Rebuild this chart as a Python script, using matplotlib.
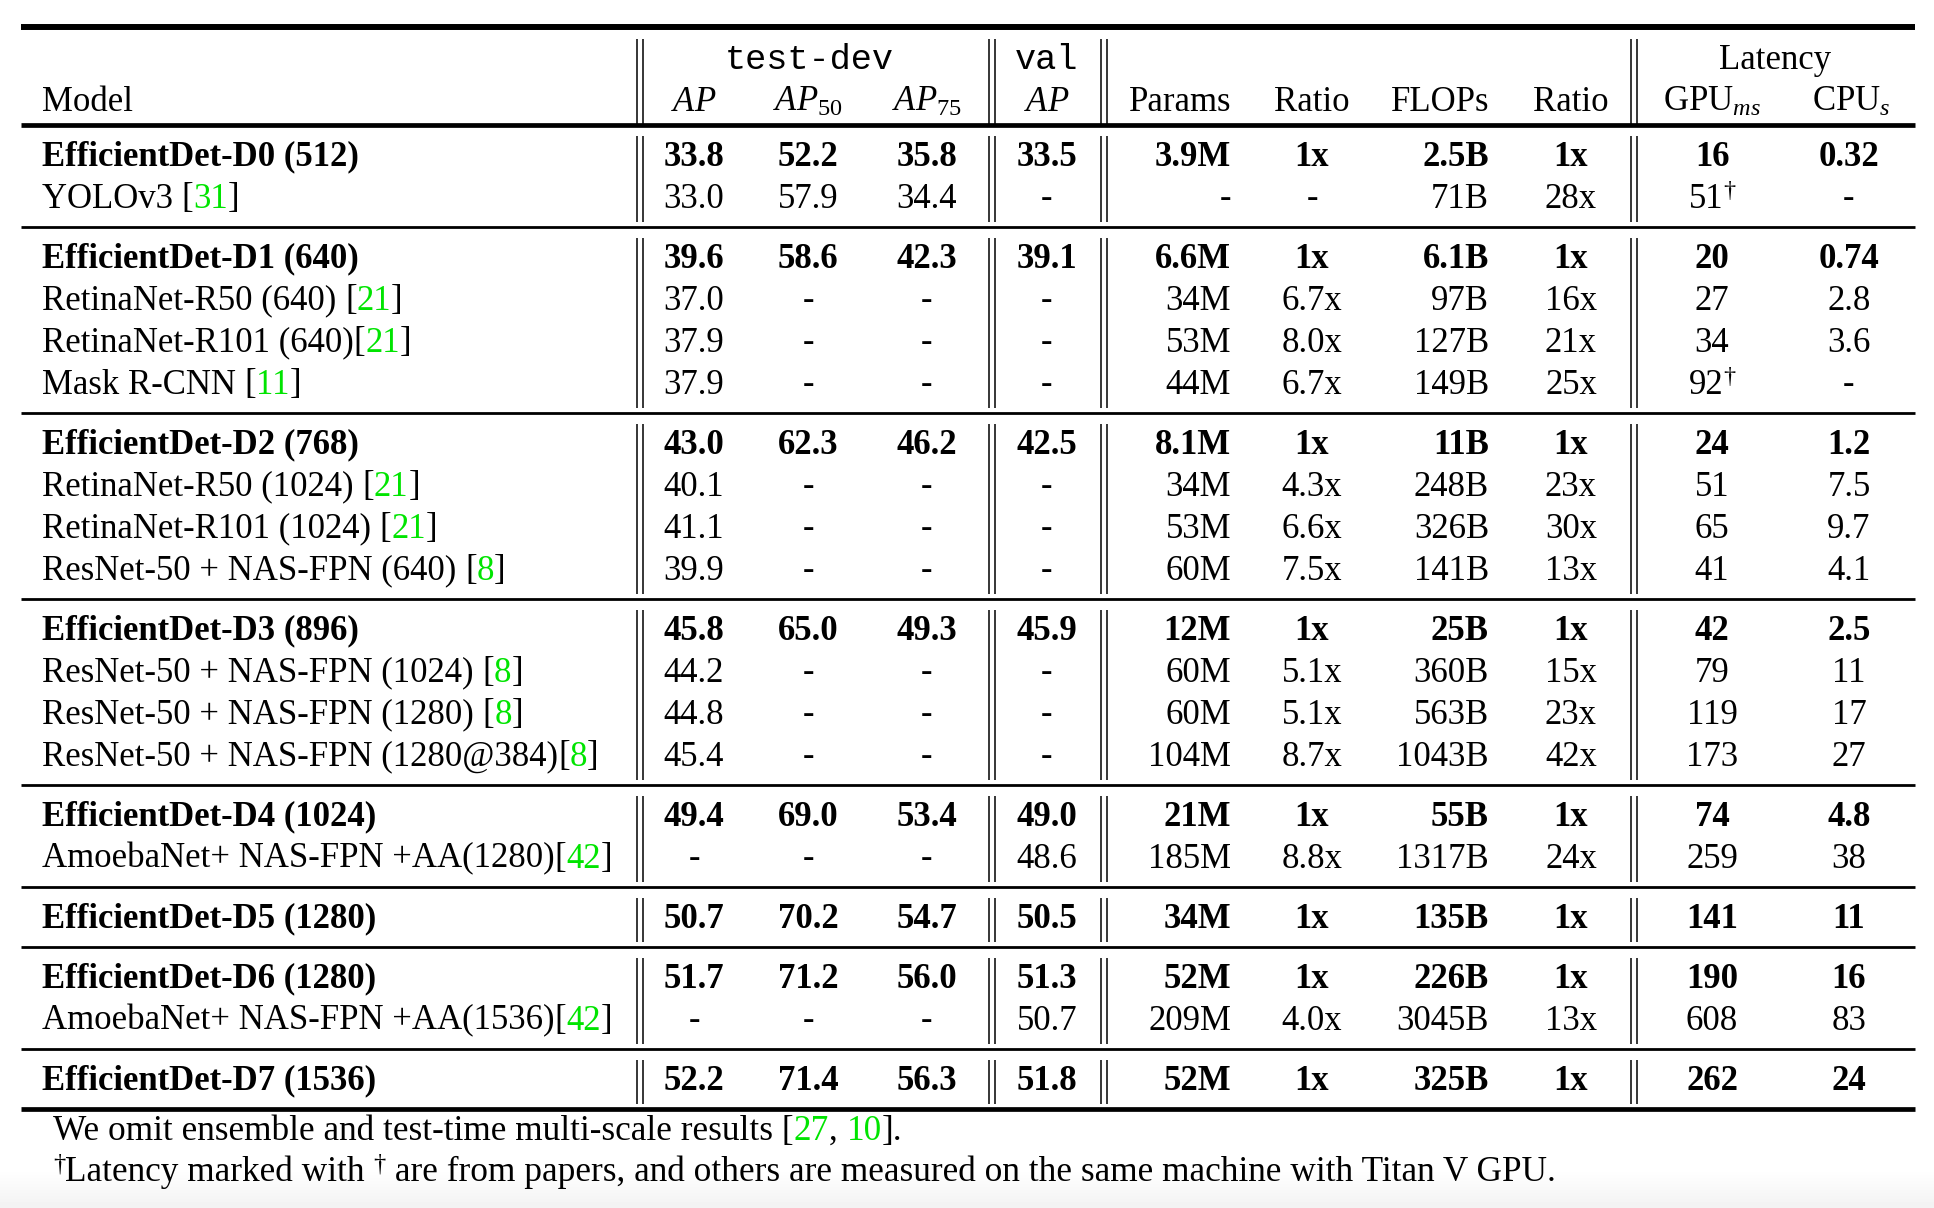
import re
import numpy as np
import matplotlib
matplotlib.use('Agg')
import matplotlib.pyplot as plt

plt.rcParams['font.family'] = ['Liberation Serif', 'DejaVu Serif']
plt.rcParams['mathtext.fontset'] = 'custom'
plt.rcParams['mathtext.rm'] = 'Liberation Serif'
plt.rcParams['mathtext.it'] = 'Liberation Serif:italic'
plt.rcParams['mathtext.bf'] = 'Liberation Serif:bold'

# table data
model_names = ['EfficientDet-D0 (512)', 'YOLOv3 [31]',
               'EfficientDet-D1 (640)', 'RetinaNet-R50 (640) [21]', 'RetinaNet-R101 (640)[21]', 'Mask R-CNN [11]',
               'EfficientDet-D2 (768)', 'RetinaNet-R50 (1024) [21]', 'RetinaNet-R101 (1024) [21]',
               'ResNet-50 + NAS-FPN (640) [8]',
               'EfficientDet-D3 (896)', 'ResNet-50 + NAS-FPN (1024) [8]', 'ResNet-50 + NAS-FPN (1280) [8]',
               'ResNet-50 + NAS-FPN (1280@384)[8]',
               'EfficientDet-D4 (1024)', 'AmoebaNet+ NAS-FPN +AA(1280)[42]',
               'EfficientDet-D5 (1280)',
               'EfficientDet-D6 (1280)', 'AmoebaNet+ NAS-FPN +AA(1536)[42]',
               'EfficientDet-D7 (1536)']
group_sizes = [2, 4, 4, 4, 2, 1, 2, 1]

ap_testdev = ['33.8', '33.0', '39.6', '37.0', '37.9', '37.9', '43.0', '40.1', '41.1', '39.9',
              '45.8', '44.2', '44.8', '45.4', '49.4', '-', '50.7', '51.7', '-', '52.2']
ap50 = ['52.2', '57.9', '58.6', '-', '-', '-', '62.3', '-', '-', '-',
        '65.0', '-', '-', '-', '69.0', '-', '70.2', '71.2', '-', '71.4']
ap75 = ['35.8', '34.4', '42.3', '-', '-', '-', '46.2', '-', '-', '-',
        '49.3', '-', '-', '-', '53.4', '-', '54.7', '56.0', '-', '56.3']
ap_val = ['33.5', '-', '39.1', '-', '-', '-', '42.5', '-', '-', '-',
          '45.9', '-', '-', '-', '49.0', '48.6', '50.5', '51.3', '50.7', '51.8']
params = ['3.9M', '-', '6.6M', '34M', '53M', '44M', '8.1M', '34M', '53M', '60M',
          '12M', '60M', '60M', '104M', '21M', '185M', '34M', '52M', '209M', '52M']
params_ratio = ['1x', '-', '1x', '6.7x', '8.0x', '6.7x', '1x', '4.3x', '6.6x', '7.5x',
                '1x', '5.1x', '5.1x', '8.7x', '1x', '8.8x', '1x', '1x', '4.0x', '1x']
flops = ['2.5B', '71B', '6.1B', '97B', '127B', '149B', '11B', '248B', '326B', '141B',
         '25B', '360B', '563B', '1043B', '55B', '1317B', '135B', '226B', '3045B', '325B']
flops_ratio = ['1x', '28x', '1x', '16x', '21x', '25x', '1x', '23x', '30x', '13x',
               '1x', '15x', '23x', '42x', '1x', '24x', '1x', '1x', '13x', '1x']
gpu_ms = ['16', '51\u2020', '20', '27', '34', '92\u2020', '24', '51', '65', '41',
          '42', '79', '119', '173', '74', '259', '141', '190', '608', '262']
cpu_s = ['0.32', '-', '0.74', '2.8', '3.6', '-', '1.2', '7.5', '9.7', '4.1',
         '2.5', '11', '17', '27', '4.8', '38', '11', '16', '83', '24']

footnote_2 = 'Latency marked with \u2020 are from papers, and others are measured on the same machine with Titan V GPU.'

GREEN = '#00e400'
FS = 25
FS_NOTE = 25.4
W, H = 1934, 1208

fig = plt.figure(figsize=(W / 100, H / 100), dpi=100)
ax = fig.add_axes([0, 0, 1, 1])
ax.set_xlim(0, W)
ax.set_ylim(H, 0)
ax.axis('off')

# faint grey fade at the very bottom
grad = np.linspace(1.0, 0.95, 40)[:, None] * np.ones((40, 2))
ax.imshow(grad, cmap='gray', vmin=0, vmax=1, extent=(0, W, H, H - 40), aspect='auto', zorder=0)
ax.set_xlim(0, W)
ax.set_ylim(H, 0)

renderer = fig.canvas.get_renderer()


def text_width(s, **kw):
    t = ax.text(0, 0, '|' + s + '|', **kw)
    w1 = t.get_window_extent(renderer).width
    t.remove()
    t = ax.text(0, 0, '||', **kw)
    w0 = t.get_window_extent(renderer).width
    t.remove()
    return w1 - w0


def draw_runs(x, y, runs, ha='left'):
    # runs: (string, color, weight, size, rise)
    widths = [text_width(s, fontsize=sz, fontweight=wt) for s, c, wt, sz, r in runs]
    total = sum(widths)
    if ha == 'center':
        x -= total / 2
    elif ha == 'right':
        x -= total
    for (s, c, wt, sz, r), w in zip(runs, widths):
        ax.text(x, y - r, s, color=c, fontsize=sz, fontweight=wt, ha='left', va='baseline')
        x += w


def cell_runs(s, weight, size=FS):
    runs = []
    for part in re.split(r'(\[[^\]]*\]|\u2020)', s):
        if not part:
            continue
        if part == '\u2020':
            runs.append((part, 'black', weight, size * 0.7, 11))
        elif part.startswith('['):
            runs.append(('[', 'black', weight, size, 0))
            runs.append((part[1:-1], GREEN, weight, size, 0))
            runs.append((']', 'black', weight, size, 0))
        else:
            runs.append((part, 'black', weight, size, 0))
    return runs


# layout
x0, x1 = 21, 1915
top_rule, head_rule = 27, 125
row_step = 42
bar_pairs = [(637, 643), (989, 995), (1101, 1107), (1631, 1637)]

columns = [
    (694, 'center', ap_testdev),
    (808, 'center', ap50),
    (927, 'center', ap75),
    (1047, 'center', ap_val),
    (1231, 'right', params),
    (1312, 'center', params_ratio),
    (1489, 'right', flops),
    (1571, 'center', flops_ratio),
    (1712, 'center', gpu_ms),
    (1849, 'center', cpu_s),
]

# header
ax.hlines(top_rule, x0, x1, color='black', lw=4.3)
ax.hlines(head_rule, x0, x1, color='black', lw=3.4)
for a, b in bar_pairs:
    ax.vlines([a, b], 39, head_rule, color='black', lw=1.1)

hb1, hb2 = 69, 111
ax.text(42, hb2, 'Model', fontsize=FS, ha='left', va='baseline')
ax.text(809, hb1, 'test-dev', fontsize=25.4, family='Liberation Mono', ha='center', va='baseline')
ax.text(1047, hb1, 'val', fontsize=25.4, family='Liberation Mono', ha='center', va='baseline')
ax.text(1775, hb1, 'Latency', fontsize=FS, ha='center', va='baseline')
header_cells = [(694, 'center', r'$AP$'), (808, 'center', r'$AP_{50}$'), (927, 'center', r'$AP_{75}$'),
                (1047, 'center', r'$AP$'), (1231, 'right', 'Params'), (1312, 'center', 'Ratio'),
                (1489, 'right', 'FLOPs'), (1571, 'center', 'Ratio'), (1712, 'center', r'GPU$_{ms}$'),
                (1851, 'center', r'CPU$_{s}$')]
for x, ha, s in header_cells:
    ax.text(x, hb2, s, fontsize=FS, ha=ha, va='baseline')

# body
rule_y = head_rule
row = 0
for n in group_sizes:
    next_rule = rule_y + 60 + row_step * (n - 1)
    for a, b in bar_pairs:
        ax.vlines([a, b], rule_y + 11, next_rule - 5, color='black', lw=1.1)
    for k in range(n):
        base = rule_y + 29 + row_step * k + 11.5
        weight = 'bold' if k == 0 else 'normal'
        draw_runs(42, base, cell_runs(model_names[row], weight))
        for x, ha, vals in columns:
            draw_runs(x, base, cell_runs(vals[row], weight), ha=ha)
        row += 1
    last = row == len(model_names)
    ax.hlines(next_rule, x0, x1, color='black', lw=3.4 if last else 2.0)
    rule_y = next_rule

# footnotes
fb1 = rule_y + 31
fb2 = fb1 + 41
note_runs = [('We omit ensemble and test-time multi-scale results [', 'black', 'normal', FS_NOTE, 0),
             ('27', GREEN, 'normal', FS_NOTE, 0), (', ', 'black', 'normal', FS_NOTE, 0),
             ('10', GREEN, 'normal', FS_NOTE, 0), ('].', 'black', 'normal', FS_NOTE, 0)]
draw_runs(53, fb1, note_runs)
head, tail = footnote_2.split('\u2020')
draw_runs(53, fb2, [('\u2020', 'black', 'normal', FS_NOTE * 0.7, 11),
                    (head, 'black', 'normal', FS_NOTE, 0),
                    ('\u2020', 'black', 'normal', FS_NOTE * 0.7, 11),
                    (tail, 'black', 'normal', FS_NOTE, 0)])

fig.savefig('out.png', dpi=100)
